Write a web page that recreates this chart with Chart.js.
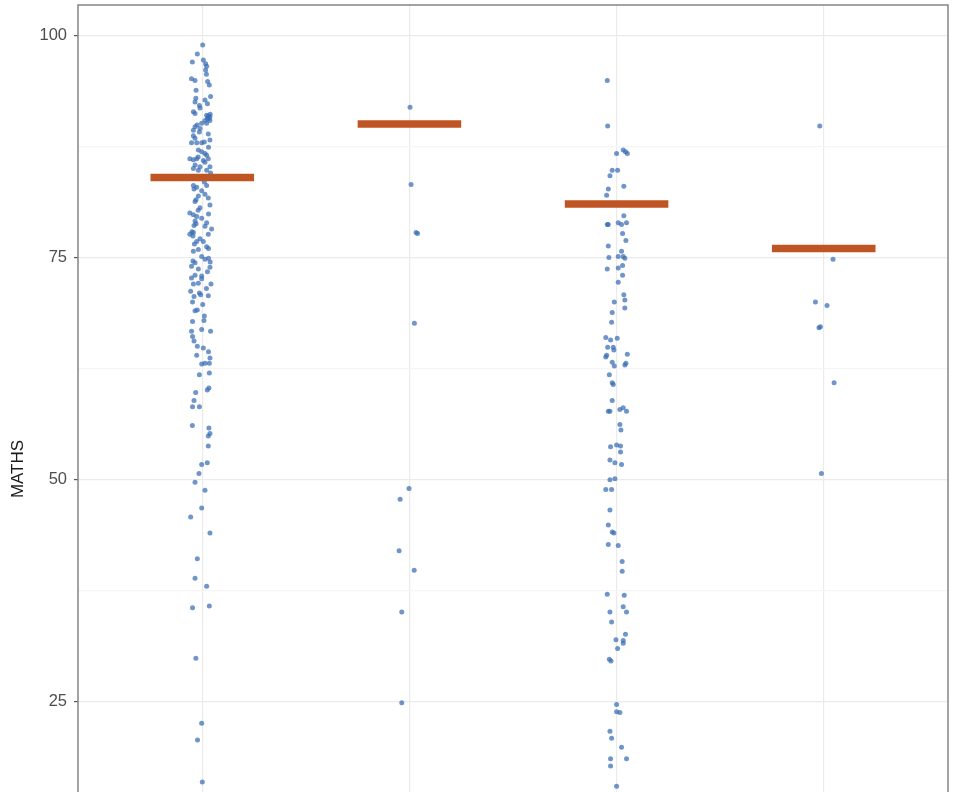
<!DOCTYPE html>
<html>
<head>
<meta charset="utf-8">
<script src="https://cdn.jsdelivr.net/npm/chart.js@4.4.1/dist/chart.umd.min.js"></script>
<style>
  html, body { margin: 0; padding: 0; background: #fff; overflow: hidden; }
  #wrap { width: 972px; height: 950px; }
</style>
</head>
<body>
<div id="wrap"><canvas id="chart"></canvas></div>
<script>
// groups along the x axis (labels are cut off in the picture)
const groups = [1, 2, 3, 4];

// median bar per group
const medians = [84, 90, 81, 76];

// MATHS scores, one array per group, plus the horizontal jitter of each point
const scores1 = [98.9, 97.9, 97.0, 97.2, 96.8, 96.5, 96.1, 95.1, 94.9, 94.8, 94.4, 93.1, 92.7, 92.9, 92.5, 92.1,
  91.8, 91.4, 91.2, 91.0, 90.8, 90.6, 90.4, 90.4, 90.1, 90.1, 89.7, 89.5, 89.3, 89.1, 88.9, 88.7, 88.4, 88.2,
  87.9, 87.9, 87.9, 87.1, 86.9, 86.7, 86.5, 86.1, 86.0, 86.1, 85.9, 86.1, 85.7, 85.4, 85.2, 85.2, 84.8, 84.8,
  85.0, 83.1, 82.9, 83.1, 82.5, 82.1, 81.9, 81.7, 80.9, 81.3, 80.6, 79.8, 79.6, 80.0, 79.4, 78.9, 79.1, 78.2,
  78.5, 77.8, 77.6, 77.6, 77.1, 76.8, 76.8, 76.2, 75.9, 75.7, 75.1, 74.8, 74.4, 74.0, 73.9, 73.7, 73.0, 72.9,
  72.7, 72.6, 72.0, 72.0, 72.1, 71.2, 71.0, 70.8, 70.6, 70.7, 70.0, 69.7, 69.0, 69.1, 67.8, 67.9, 66.7, 66.9,
  66.7, 66.1, 65.0, 64.8, 64.0, 63.7, 63.1, 63.0, 63.1, 61.8, 62.0, 60.1, 60.3, 59.8, 58.9, 58.2, 58.2, 56.1,
  55.8, 55.2, 54.9, 53.8, 51.7, 51.9, 50.7, 49.7, 48.8, 46.8, 45.8, 44.0, 41.1, 38.9, 38.0, 35.6, 35.8, 29.9,
  22.6, 20.7, 16.0,
  90.9, 91.1, 90.7, 78.6, 78.8, 77.9, 77.4, 76.5, 76.0, 74.6, 74.9, 74.5, 80.3, 81.5, 83.5, 86.3,
  87.4, 88.0, 89.9, 92.3, 93.8, 95.6, 84.5, 82.7, 79.9, 71.5, 73.4, 68.4, 65.6, 64.4];
const jitter1 = [0.002, -0.024, -0.048, 0.005, 0.016, 0.021, 0.016, -0.052, -0.035, 0.026, 0.034, 0.040, 0.013, -0.031, -0.035, -0.014,
  -0.011, -0.043, -0.035, 0.021, 0.037, 0.029, 0.013, 0.037, -0.003, 0.021, -0.035, -0.011, -0.043, -0.014, 0.029, -0.043, -0.035, 0.037,
  -0.052, -0.027, -0.003, -0.019, -0.003, 0.013, 0.021, -0.060, -0.043, -0.027, 0.005, 0.029, 0.013, -0.035, -0.011, 0.037, -0.019, 0.021,
  -0.043, -0.043, -0.027, 0.021, -0.003, 0.013, -0.019, 0.029, 0.037, -0.035, -0.011, -0.043, -0.027, -0.060, -0.003, 0.021, -0.035, 0.045,
  0.013, -0.043, 0.029, -0.060, -0.011, -0.027, 0.005, 0.021, -0.019, -0.043, -0.003, 0.013, -0.035, -0.052, 0.037, -0.019, -0.035, -0.003,
  -0.052, -0.003, 0.042, -0.043, -0.019, -0.056, -0.014, -0.008, -0.040, 0.029, -0.047, 0.002, -0.035, -0.024, -0.047, 0.008, -0.052, -0.003,
  0.040, -0.047, -0.024, 0.005, -0.027, 0.037, 0.013, -0.003, 0.034, -0.014, 0.034, 0.024, 0.032, -0.032, -0.040, -0.047, -0.014, -0.048,
  0.032, 0.037, 0.029, 0.029, -0.003, 0.024, -0.016, -0.035, 0.013, -0.003, -0.056, 0.037, -0.024, -0.035, 0.021, -0.047, 0.034, -0.031,
  -0.003, -0.023, 0.000,
  0.030, 0.038, 0.025, -0.040, -0.030, -0.050, -0.045, -0.038, 0.030, -0.045, 0.030, 0.038, -0.020, -0.030, 0.010, -0.020,
  0.030, 0.010, -0.025, 0.025, -0.030, 0.020, 0.040, -0.040, 0.030, 0.020, 0.025, 0.010, -0.040, 0.030];

const scores2 = [91.9, 83.2, 77.7, 77.8, 67.6, 49.0, 47.8, 42.0, 39.8, 35.1, 24.9];
const jitter2 = [0.003, 0.008, 0.039, 0.032, 0.024, -0.002, -0.045, -0.050, 0.023, -0.037, -0.037];

const scores3 = [94.9, 89.8, 87.1, 86.9, 86.7, 86.7, 84.8, 84.8, 84.2, 83.0, 82.7, 82.0, 79.7, 78.7, 78.7, 78.9,
  78.7, 78.9, 77.7, 76.9, 76.3, 75.7, 75.0, 75.1, 75.1, 74.9, 73.7, 73.8, 74.1, 73.0, 72.2, 70.8, 70.2, 70.0,
  69.3, 68.8, 67.7, 66.0, 65.7, 65.9, 64.9, 64.9, 64.6, 64.0, 63.8, 64.1, 63.2, 62.8, 63.1, 62.9, 61.8, 60.9,
  60.7, 58.9, 57.7, 57.7, 57.9, 58.1, 57.7, 56.2, 55.6, 53.7, 53.9, 53.8, 53.1, 52.2, 51.9, 51.7, 50.0, 50.1,
  48.9, 48.9, 46.6, 44.9, 44.1, 44.0, 42.7, 42.6, 40.8, 39.7, 37.1, 37.0, 35.7, 35.1, 35.1, 34.0, 32.6, 32.0,
  31.9, 31.6, 31.0, 29.8, 29.6, 24.7, 23.9, 23.8, 21.7, 20.9, 19.9, 18.6, 18.6, 17.8, 15.5];
const jitter3 = [-0.045, -0.043, 0.032, 0.043, 0.052, 0.000, -0.021, 0.005, -0.032, 0.035, -0.040, -0.048, 0.035, -0.045, -0.040, 0.008,
  0.024, 0.048, 0.029, 0.045, -0.040, 0.024, -0.037, 0.008, 0.032, 0.040, -0.045, 0.008, 0.029, 0.029, 0.008, 0.035, 0.040, -0.011,
  0.040, -0.021, -0.024, -0.052, -0.029, 0.003, -0.043, -0.016, -0.013, -0.048, -0.052, 0.052, -0.021, -0.011, 0.045, 0.040, -0.035, -0.021,
  -0.016, -0.021, -0.040, -0.032, 0.016, 0.032, 0.048, 0.016, 0.021, -0.029, 0.000, 0.019, 0.019, -0.032, -0.008, 0.024, -0.032, -0.008,
  -0.052, -0.024, -0.032, -0.040, -0.021, -0.013, -0.040, 0.008, 0.027, 0.027, -0.045, 0.037, 0.032, 0.048, -0.032, -0.024, 0.043, -0.003,
  0.032, 0.032, 0.005, -0.035, -0.027, 0.000, 0.000, 0.016, -0.032, -0.024, 0.024, -0.029, 0.048, -0.029, 0.000];

const scores4 = [89.8, 74.8, 70.0, 69.6, 67.1, 67.2, 60.9, 50.7];
const jitter4 = [-0.019, 0.045, -0.040, 0.016, -0.023, -0.016, 0.050, -0.011];

const yTicks = [0, 12.5, 25, 37.5, 50, 62.5, 75, 87.5, 100];

const pointColor = 'rgba(55, 108, 180, 0.72)';
const medianColor = '#bf5522';

const scoreSets = [[scores1, jitter1], [scores2, jitter2], [scores3, jitter3], [scores4, jitter4]];

const pointDatasets = scoreSets.map(([ys, js], i) => ({
  type: 'scatter',
  data: ys.map((y, k) => ({ x: groups[i] + js[k], y: y })),
  pointRadius: 2.5,
  pointBorderWidth: 0,
  pointBackgroundColor: pointColor,
  order: 1
}));

const medianDatasets = medians.map((m, i) => ({
  type: 'line',
  data: [{ x: groups[i] - 0.25, y: m }, { x: groups[i] + 0.25, y: m }],
  borderColor: medianColor,
  borderWidth: 7.5,
  borderCapStyle: 'butt',
  pointRadius: 0,
  fill: false,
  order: 0
}));

// ggplot-like frame round the panel
const panelBorder = {
  id: 'panelBorder',
  afterDraw(chart) {
    const { ctx, chartArea: a } = chart;
    ctx.save();
    ctx.strokeStyle = '#858585';
    ctx.lineWidth = 1.5;
    ctx.strokeRect(a.left, a.top, a.right - a.left, a.bottom - a.top);
    ctx.restore();
  }
};

const ctx = document.getElementById('chart').getContext('2d');
new Chart(ctx, {
  type: 'scatter',
  data: { datasets: [...medianDatasets, ...pointDatasets] },
  plugins: [panelBorder],
  options: {
    responsive: true,
    maintainAspectRatio: false,
    animation: false,
    layout: { padding: { top: 5, right: 24, bottom: 17, left: 0 } },
    plugins: { legend: { display: false }, tooltip: { enabled: false } },
    scales: {
      x: {
        type: 'linear',
        min: 0.4,
        max: 4.6,
        afterBuildTicks: s => { s.ticks = groups.map(v => ({ value: v })); },
        ticks: { display: false },
        border: { display: false },
        grid: { color: '#ebebeb', lineWidth: 1.2, drawTicks: false }
      },
      y: {
        min: -1,
        max: 103.4,
        afterBuildTicks: s => { s.ticks = yTicks.map(v => ({ value: v })); },
        afterFit: s => { s.width = 78; s.paddingTop = 0; s.paddingBottom = 0; },
        border: { display: false },
        grid: {
          color: c => (c.tick && c.tick.value % 25 === 0) ? '#ebebeb' : '#f5f5f5',
          lineWidth: 1.2,
          tickLength: 4,
          tickColor: c => (c.tick && c.tick.value % 25 === 0) ? '#555' : 'rgba(0,0,0,0)'
        },
        ticks: {
          padding: 7,
          color: '#4d4d4d',
          font: { family: 'Liberation Sans', size: 16.5 },
          callback: v => (v % 25 === 0 ? v : '')
        },
        title: {
          display: true,
          text: 'MATHS',
          color: '#1a1a1a',
          font: { family: 'Liberation Sans', size: 17 },
          padding: { top: 8, bottom: 0 }
        }
      }
    }
  }
});
</script>
</body>
</html>
